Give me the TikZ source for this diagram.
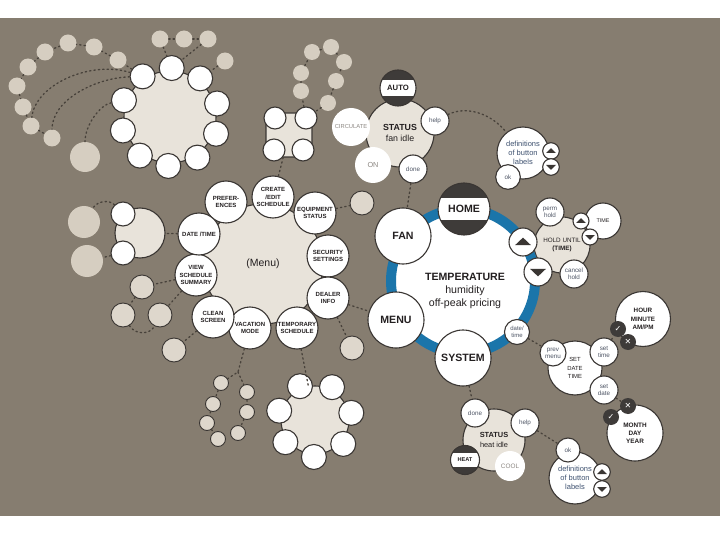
\documentclass[tikz,border=0pt]{standalone}
\usepackage{fontspec}
\setmainfont{Liberation Sans}
\newfontfamily\symfont{DejaVu Sans}

\definecolor{backdrop}{HTML}{867D70}
\definecolor{plate}{HTML}{E8E3DA}
\definecolor{pale}{HTML}{D6CEC1}
\definecolor{leaf}{HTML}{DED7CC}
\definecolor{edge}{HTML}{3A3633}
\definecolor{ring}{HTML}{1B75AA}
\definecolor{cap}{HTML}{3E3B39}
\definecolor{ink}{HTML}{231F20}
\definecolor{faded}{HTML}{8C8782}
\definecolor{label}{HTML}{4E5565}
\definecolor{defn}{HTML}{3F5270}
\definecolor{link}{HTML}{48423B}

\tikzset{
    rad/.style={minimum size=2*#1pt},
    link/.style={draw=link, line width=1.3pt, dash pattern=on 1.4pt off 3pt},
    plate/.style={circle, draw=edge, fill=plate, line width=1.1pt, inner sep=0pt, align=center, text=ink},
    btn/.style={circle, draw=edge, fill=white, line width=1.1pt, inner sep=0pt, align=center, text=ink},
    pale/.style={circle, fill=pale, inner sep=0pt},
    leaf/.style={circle, draw=edge, fill=leaf, line width=0.9pt, inner sep=0pt},
    soft/.style={circle, fill=white, inner sep=0pt, text=faded, align=center},
    menubtn/.style={btn, rad=21, font=\fontsize{6}{7.6}\selectfont\bfseries},
    small/.style={btn, font=\fontsize{6.3}{7.2}\selectfont, text=label},
    bigbtn/.style={btn, rad=28, font=\fontsize{10.6}{12}\selectfont\bfseries},
    capbtn/.style={circle, draw=edge, fill=cap, line width=1.1pt, inner sep=0pt, text=ink,
        path picture={\fill[white] ([yshift=-#1pt]path picture bounding box.west)
            rectangle ([yshift=#1pt]path picture bounding box.east);}},
    upbtn/.style={btn, path picture={\fill[edge, shift={(path picture bounding box.center)}]
        (-#1pt,-0.4*#1pt) -- (#1pt,-0.4*#1pt) -- (0pt,0.55*#1pt) -- cycle;}},
    downbtn/.style={btn, path picture={\fill[edge, shift={(path picture bounding box.center)}]
        (-#1pt,0.4*#1pt) -- (#1pt,0.4*#1pt) -- (0pt,-0.55*#1pt) -- cycle;}},
    tick/.style={circle, fill=cap, inner sep=0pt, rad=8, text=white,
        font=\symfont\fontsize{8}{8}\selectfont},
}

\begin{document}
\begin{tikzpicture}[x=1pt, y=-1pt, line join=round, line cap=round]
    \useasboundingbox (0,0) rectangle (720,540);
    \fill[backdrop] (0,18) rectangle (720,516);

    % Top-left cluster
    \node[plate, rad=46] (tl) at (170,117) {};
    \foreach \i in {0,...,9}
        \node[btn, rad=12.5] (tl\i) at ([shift={(88+36*\i:49pt)}]tl.center) {};
    \foreach \n/\x/\y in {pa/160/39, pb/184/39, pc/208/39, pd/225/61,
        q1/118/60, q2/94/47, q3/68/43, q4/45/52, q5/28/67, q6/17/86,
        q7/23/107, q8/31/126, q9/52/138}
        \node[pale, rad=8.5] (\n) at (\x,\y) {};
    \node[pale, rad=15] (qb) at (85,157) {};

    % Square cluster
    \node[plate, rectangle, rounded corners=9pt, minimum width=46pt, minimum height=44pt] (sq) at (289,135) {};
    \node[btn, rad=11] (sq1) at (275,118) {};
    \node[btn, rad=11] (sq2) at (306,118) {};
    \node[btn, rad=11] (sq3) at (274,150) {};
    \node[btn, rad=11] (sq4) at (303,150) {};
    \foreach \n/\x/\y in {sA/312/52, sB/331/47, sC/344/62, sD/301/73,
        sE/336/81, sF/301/91, sG/328/103}
        \node[pale, rad=8] (\n) at (\x,\y) {};

    % Menu cluster
    \node[plate, rad=60, font=\fontsize{10.5}{12}\selectfont] (menu) at (263,264) {(Menu)};
    \node[menubtn] (pref)   at (226,202) {PREFER-\\ENCES};
    \node[menubtn] (create) at (273,197) {CREATE\\/EDIT\\SCHEDULE};
    \node[menubtn] (equip)  at (315,213) {EQUIPMENT\\STATUS};
    \node[menubtn] (secur)  at (328,256) {SECURITY\\SETTINGS};
    \node[menubtn] (dealer) at (328,298) {DEALER\\INFO};
    \node[menubtn] (temp)   at (297,328) {TEMPORARY\\SCHEDULE};
    \node[menubtn] (vacat)  at (250,328) {VACATION\\MODE};
    \node[menubtn] (clean)  at (213,317) {CLEAN\\SCREEN};
    \node[menubtn] (view)   at (196,275) {VIEW\\SCHEDULE\\SUMMARY};
    \node[menubtn] (date)   at (199,234) {DATE /TIME};

    % Menu leaves
    \node[plate, rad=25] (dtp) at (140,233) {};
    \node[btn, rad=12] (dt1) at (123,214) {};
    \node[btn, rad=12] (dt2) at (123,253) {};
    \node[pale, rad=16] (dp1) at (84,222) {};
    \node[pale, rad=16] (dp2) at (87,261) {};
    \node[leaf, rad=12] (vp1) at (142,287) {};
    \node[leaf, rad=12] (vp2) at (123,315) {};
    \node[leaf, rad=12] (vp3) at (160,315) {};
    \node[leaf, rad=12] (cp)  at (174,350) {};
    \node[leaf, rad=12] (ep)  at (362,203) {};
    \node[leaf, rad=12] (dp)  at (352,348) {};
    \coordinate (vj) at (238,372);
    \foreach \n/\x/\y in {sm1/221/383, sm2/247/392, sm3/213/404, sm4/247/412,
        sm5/207/423, sm6/238/433, sm7/218/439}
        \node[leaf, rad=7.5] (\n) at (\x,\y) {};

    % Bottom cluster
    \node[plate, rad=34] (bc) at (315,420) {};
    \foreach \i in {0,...,6}
        \node[btn, rad=12.5] (bc\i) at ([shift={(114-51.43*\i:37pt)}]bc.center) {};

    % Fan status
    \node[plate, rad=34, font=\fontsize{8.8}{11}\selectfont] (stat) at (400,133) {\textbf{STATUS}\\fan idle};
    \node[capbtn=8, rad=18, font=\fontsize{7.7}{8}\selectfont\bfseries] (auto) at (398,88) {AUTO};
    \node[soft, rad=19, font=\fontsize{5.8}{6}\selectfont] (circ) at (351,127) {CIRCULATE};
    \node[soft, rad=18, font=\fontsize{7.3}{8}\selectfont] (on) at (373,165) {ON};
    \node[small, rad=14] (help) at (435,121) {help};
    \node[small, rad=14] (done) at (413,169) {done};
    \node[btn, rad=26, text=defn, font=\fontsize{7.5}{8.8}\selectfont] (def) at (523,153) {definitions\\of button\\labels};
    \node[upbtn=5, rad=8.3] (dup) at (551,151) {};
    \node[downbtn=5, rad=8.3] (ddn) at (551,167) {};
    \node[small, rad=12.3] (dok) at (508,177) {ok};

    % Hold
    \node[plate, rad=28, font=\fontsize{6.3}{7.6}\selectfont] (hold) at (562,245) {HOLD UNTIL\\\textbf{(TIME)}};
    \node[small, rad=14] (perm) at (550,212) {perm\\hold};
    \node[small, rad=14] (cancel) at (574,274) {cancel\\hold};
    \node[btn, rad=18, font=\fontsize{5.4}{6}\selectfont] (time) at (603,221) {TIME};
    \node[upbtn=5, rad=8] (hup) at (581,221) {};
    \node[downbtn=5, rad=8] (hdn) at (590,237) {};

    % Main dial
    \node[circle, draw=ring, fill=white, line width=10pt, rad=72] (dial) at (463,281) {};
    \node[align=center, text=ink, font=\fontsize{10.6}{13}\selectfont] (readout) at (465,291)
        {\textbf{TEMPERATURE}\\humidity\\off-peak pricing};
    \node[capbtn=11, rad=26, font=\fontsize{10.6}{12}\selectfont\bfseries] (home) at (464,209) {HOME};
    \node[bigbtn] (fan) at (403,236) {FAN};
    \node[bigbtn] (mbtn) at (396,320) {MENU};
    \node[bigbtn] (system) at (463,358) {SYSTEM};
    \node[upbtn=8, rad=14] (up) at (523,242) {};
    \node[downbtn=8, rad=14] (down) at (538,272) {};
    \node[small, rad=12.5, font=\fontsize{6}{7}\selectfont] (dtb) at (517,332) {date/\\time};

    % Set date and time
    \node[btn, rad=27, font=\fontsize{5.9}{8.2}\selectfont] (sdt) at (575,368) {SET\\DATE\\TIME};
    \node[small, rad=13] (prev) at (553,353) {prev\\menu};
    \node[small, rad=14] (stime) at (604,352) {set\\time};
    \node[small, rad=14] (sdate) at (604,390) {set\\date};
    \node[btn, rad=27.5, font=\fontsize{6.3}{8.3}\selectfont\bfseries] (hmpm) at (643,319) {HOUR\\MINUTE\\AM/PM};
    \node[tick] (ok1) at (618,329) {✓};
    \node[tick] (no1) at (628,342) {✕};
    \node[btn, rad=28, font=\fontsize{6.4}{7.8}\selectfont\bfseries] (mdy) at (635,433) {MONTH\\DAY\\YEAR};
    \node[tick] (no2) at (628,406) {✕};
    \node[tick] (ok2) at (611,417) {✓};

    % Heat status
    \node[plate, rad=31, font=\fontsize{7.4}{9.5}\selectfont] (bstat) at (494,440) {\textbf{STATUS}\\heat idle};
    \node[small, rad=14] (bdone) at (475,413) {done};
    \node[small, rad=14] (bhelp) at (525,423) {help};
    \node[capbtn=7, rad=14.5, font=\fontsize{5.6}{6}\selectfont\bfseries] (heat) at (465,460) {HEAT};
    \node[soft, rad=15, font=\fontsize{6.4}{7}\selectfont] (cool) at (510,466) {COOL};
    \node[btn, rad=26, text=defn, font=\fontsize{7.5}{8.8}\selectfont] (bdef) at (575,478) {definitions\\of button\\labels};
    \node[small, rad=12] (bok) at (568,450) {ok};
    \node[upbtn=5, rad=8.3] (bup) at (602,472) {};
    \node[downbtn=5, rad=8.3] (bdn) at (602,489) {};

    % Links
    \draw[link] (pa) -- (pb) -- (pc);
    \draw[link] (pa) -- (tl0);
    \draw[link] (pc) -- (tl0);
    \draw[link] (pd) -- (tl9);
    \draw[link] (tl1) -- (q1) -- (q2) -- (q3) -- (q4) -- (q5) -- (q6) -- (q7) -- (q8) -- (q9);
    \draw[link] (tl1) .. controls (90,60) and (35,85) .. (q8);
    \draw[link] (tl1) .. controls (95,78) and (52,100) .. (q9);
    \draw[link] (tl2) .. controls (100,105) and (85,125) .. (qb);
    \draw[link] (sq2) -- (sF) -- (sD) -- (sA) -- (sB) -- (sC) -- (sE) -- (sG) -- (sq2);
    \draw[link] (sq) -- (create);
    \draw[link] (date) -- (dtp);
    \draw[link] (dt1) .. controls (110,200) and (98,200) .. (dp1);
    \draw[link] (dt2) -- (dp2);
    \draw[link] (view) -- (vp1) -- (vp2);
    \draw[link] (vp2) .. controls (135,335) and (150,335) .. (vp3);
    \draw[link] (view) -- (vp3);
    \draw[link] (clean) -- (cp);
    \draw[link] (equip) -- (ep);
    \draw[link] (dealer) -- (dp);
    \draw[link] (dealer) -- (mbtn);
    \draw[link] (temp) -- (bc);
    \draw[link] (vacat) -- (vj) -- (sm1) -- (sm3) -- (sm5) -- (sm7);
    \draw[link] (vj) -- (sm2) -- (sm4) -- (sm6);
    \draw[link] (help) .. controls (465,106) and (490,112) .. (def);
    \draw[link] (done) -- (fan);
    \draw[link] (dtb) -- (prev);
    \draw[link] (stime) -- (ok1);
    \draw[link] (sdate) -- (no2);
    \draw[link] (system) -- (bdone);
    \draw[link] (bhelp) -- (bok);
\end{tikzpicture}
\end{document}
